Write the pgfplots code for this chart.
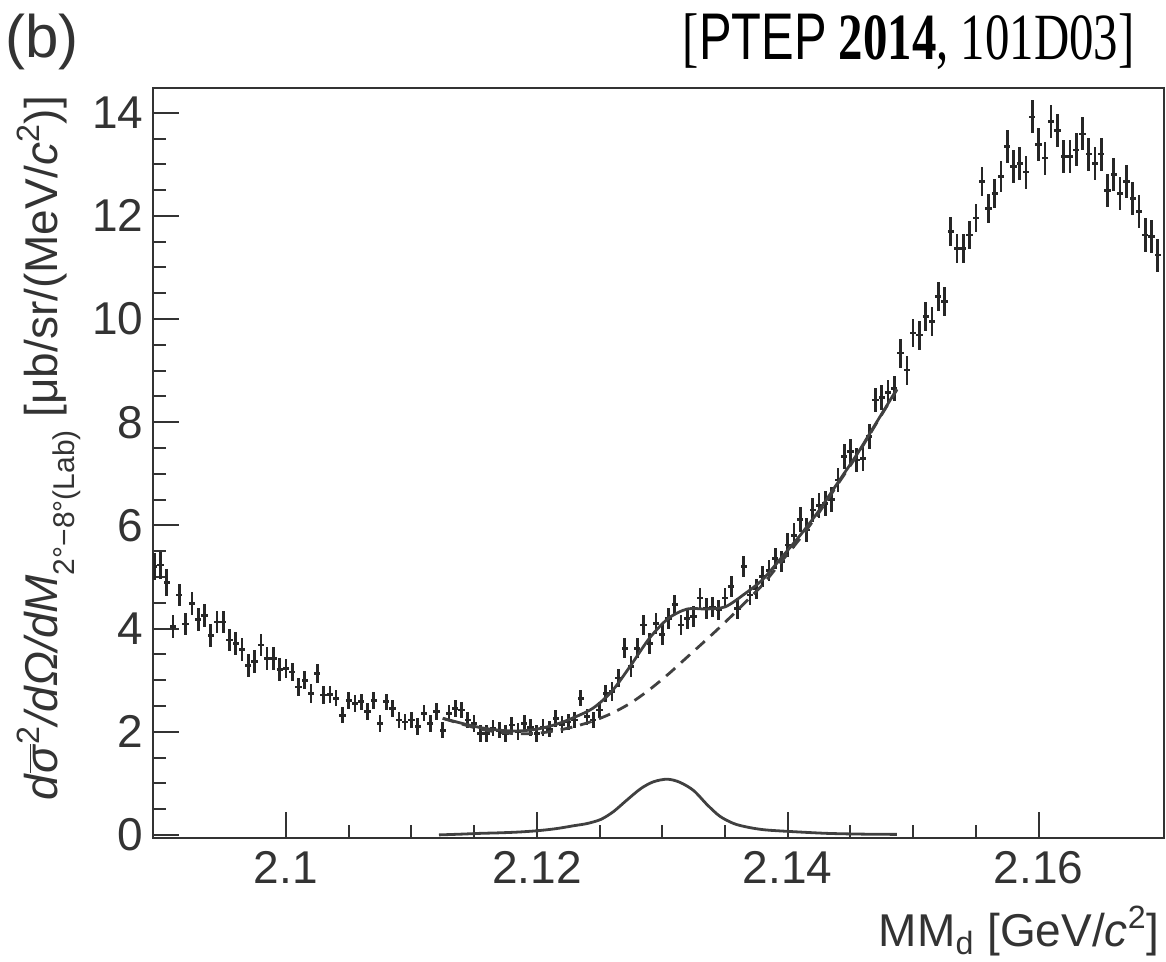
\documentclass[border=0pt]{standalone}
\usepackage{pgfplots}
\pgfplotsset{compat=1.18}
\usepackage{fontspec}
\setmainfont{Liberation Sans}
\newfontfamily\serifpt{Liberation Serif}
\definecolor{ink}{gray}{0.2}
\definecolor{curve}{gray}{0.25}
\definecolor{pts}{gray}{0.15}

\pgfplotstableread{
x y ex ey
2.0895 5.20 0.00025 0.26
2.0900 5.23 0.00025 0.26
2.0905 4.89 0.00025 0.26
2.0910 4.04 0.00025 0.22
2.0915 4.65 0.00025 0.22
2.0920 4.09 0.00025 0.22
2.0925 4.49 0.00025 0.22
2.0930 4.17 0.00025 0.22
2.0935 4.26 0.00025 0.22
2.0940 3.86 0.00025 0.22
2.0945 4.13 0.00025 0.22
2.0950 4.13 0.00025 0.22
2.0955 3.78 0.00025 0.22
2.0960 3.71 0.00025 0.22
2.0965 3.60 0.00025 0.22
2.0970 3.29 0.00025 0.22
2.0975 3.36 0.00025 0.22
2.0980 3.68 0.00025 0.22
2.0985 3.42 0.00025 0.22
2.0990 3.42 0.00025 0.22
2.0995 3.20 0.00025 0.22
2.1000 3.23 0.00025 0.18
2.1005 3.16 0.00025 0.18
2.1010 2.87 0.00025 0.18
2.1015 3.00 0.00025 0.18
2.1020 2.74 0.00025 0.18
2.1025 3.13 0.00025 0.18
2.1030 2.71 0.00025 0.18
2.1035 2.72 0.00025 0.16
2.1040 2.65 0.00025 0.16
2.1045 2.32 0.00025 0.16
2.1050 2.61 0.00025 0.16
2.1055 2.55 0.00025 0.16
2.1060 2.58 0.00025 0.16
2.1065 2.39 0.00025 0.16
2.1070 2.61 0.00025 0.16
2.1075 2.16 0.00025 0.16
2.1080 2.58 0.00025 0.16
2.1085 2.45 0.00025 0.16
2.1090 2.23 0.00025 0.16
2.1095 2.19 0.00025 0.16
2.1100 2.23 0.00025 0.16
2.1105 2.10 0.00025 0.16
2.1110 2.36 0.00025 0.16
2.1115 2.16 0.00025 0.16
2.1120 2.39 0.00025 0.16
2.1125 2.03 0.00025 0.16
2.1130 2.36 0.00025 0.16
2.1135 2.45 0.00025 0.16
2.1140 2.42 0.00025 0.16
2.1145 2.23 0.00025 0.16
2.1150 2.16 0.00025 0.16
2.1155 1.97 0.00025 0.16
2.1160 1.97 0.00025 0.16
2.1165 2.07 0.00025 0.16
2.1170 2.03 0.00025 0.16
2.1175 1.97 0.00025 0.16
2.1180 2.13 0.00025 0.16
2.1185 2.00 0.00025 0.16
2.1190 2.16 0.00025 0.16
2.1195 2.08 0.00025 0.16
2.1200 1.97 0.00025 0.16
2.1205 2.08 0.00025 0.16
2.1210 2.05 0.00025 0.16
2.1215 2.26 0.00025 0.16
2.1220 2.14 0.00025 0.16
2.1225 2.19 0.00025 0.16
2.1230 2.23 0.00025 0.16
2.1235 2.65 0.00025 0.16
2.1240 2.29 0.00025 0.16
2.1245 2.23 0.00025 0.16
2.1250 2.42 0.00025 0.16
2.1255 2.74 0.00025 0.16
2.1260 2.78 0.00025 0.18
2.1265 3.04 0.00025 0.18
2.1270 3.62 0.00025 0.20
2.1275 3.27 0.00025 0.20
2.1280 3.62 0.00025 0.20
2.1285 4.07 0.00025 0.20
2.1290 3.71 0.00025 0.20
2.1295 4.10 0.00025 0.20
2.1300 3.88 0.00025 0.20
2.1305 4.20 0.00025 0.20
2.1310 4.46 0.00025 0.20
2.1315 4.07 0.00025 0.20
2.1320 4.20 0.00025 0.20
2.1325 4.23 0.00025 0.20
2.1330 4.59 0.00025 0.20
2.1335 4.39 0.00025 0.20
2.1340 4.42 0.00025 0.20
2.1345 4.36 0.00025 0.20
2.1350 4.59 0.00025 0.20
2.1355 4.81 0.00025 0.20
2.1360 4.39 0.00025 0.20
2.1365 5.20 0.00025 0.20
2.1370 4.65 0.00025 0.20
2.1375 4.77 0.00025 0.20
2.1380 5.01 0.00025 0.20
2.1385 5.12 0.00025 0.20
2.1390 5.36 0.00025 0.20
2.1395 5.30 0.00025 0.20
2.1400 5.62 0.00025 0.24
2.1405 5.80 0.00025 0.24
2.1410 6.11 0.00025 0.24
2.1415 5.91 0.00025 0.24
2.1420 6.30 0.00025 0.24
2.1425 6.38 0.00025 0.24
2.1430 6.42 0.00025 0.24
2.1435 6.50 0.00025 0.24
2.1440 6.88 0.00025 0.24
2.1445 7.33 0.00025 0.24
2.1450 7.43 0.00025 0.24
2.1455 7.27 0.00025 0.24
2.1460 7.30 0.00025 0.24
2.1465 7.73 0.00025 0.24
2.1470 8.43 0.00025 0.24
2.1475 8.48 0.00025 0.24
2.1480 8.57 0.00025 0.24
2.1485 8.65 0.00025 0.24
2.1490 9.34 0.00025 0.28
2.1495 9.01 0.00025 0.28
2.1500 9.73 0.00025 0.28
2.1505 9.69 0.00025 0.28
2.1510 10.05 0.00025 0.28
2.1515 9.95 0.00025 0.28
2.1520 10.44 0.00025 0.28
2.1525 10.34 0.00025 0.28
2.1530 11.70 0.00025 0.28
2.1535 11.37 0.00025 0.28
2.1540 11.37 0.00025 0.28
2.1545 11.63 0.00025 0.28
2.1550 11.96 0.00025 0.28
2.1555 12.67 0.00025 0.28
2.1560 12.15 0.00025 0.28
2.1565 12.44 0.00025 0.28
2.1570 12.76 0.00025 0.30
2.1575 13.35 0.00025 0.32
2.1580 12.96 0.00025 0.32
2.1585 13.02 0.00025 0.32
2.1590 12.85 0.00025 0.32
2.1595 13.92 0.00025 0.32
2.1600 13.38 0.00025 0.32
2.1605 13.12 0.00025 0.32
2.1610 13.83 0.00025 0.32
2.1615 13.65 0.00025 0.32
2.1620 13.15 0.00025 0.32
2.1625 13.15 0.00025 0.32
2.1630 13.28 0.00025 0.32
2.1635 13.59 0.00025 0.32
2.1640 13.20 0.00025 0.32
2.1645 13.02 0.00025 0.32
2.1650 13.20 0.00025 0.32
2.1655 12.49 0.00025 0.32
2.1660 12.80 0.00025 0.32
2.1665 12.44 0.00025 0.32
2.1670 12.67 0.00025 0.32
2.1675 12.34 0.00025 0.32
2.1680 12.08 0.00025 0.32
2.1685 11.63 0.00025 0.32
2.1690 11.60 0.00025 0.32
2.1695 11.24 0.00025 0.32
}\datatable

\pgfplotstableread{
x y
2.1125 2.26
2.1140 2.165
2.1155 2.08
2.1170 2.03
2.1185 2.015
2.1200 2.05
2.1215 2.14
2.1230 2.28
2.1245 2.46
2.1260 2.79
2.1275 3.29
2.1290 3.82
2.1305 4.20
2.1320 4.38
2.1335 4.38
2.1350 4.42
2.1365 4.66
2.1380 4.95
2.1395 5.375
2.1410 5.81
2.1425 6.29
2.1440 6.83
2.1455 7.37
2.1470 7.965
2.1487 8.64
}\totaltable

\pgfplotstableread{
x y
2.1125 2.26
2.1140 2.15
2.1155 2.05
2.1170 1.99
2.1185 1.96
2.1200 1.97
2.1215 2.02
2.1230 2.10
2.1245 2.21
2.1260 2.36
2.1275 2.56
2.1290 2.82
2.1305 3.12
2.1320 3.45
2.1335 3.78
2.1350 4.12
2.1365 4.48
2.1380 4.85
2.1395 5.30
2.1410 5.75
2.1425 6.25
2.1440 6.80
2.1455 7.35
2.1470 7.95
2.1487 8.63
}\bgtable

\pgfplotstableread{
x y
2.1122 0.00
2.1140 0.015
2.1155 0.03
2.1170 0.04
2.1185 0.055
2.1200 0.08
2.1215 0.12
2.1230 0.18
2.1240 0.22
2.1251 0.30
2.1261 0.45
2.1272 0.68
2.1283 0.90
2.1293 1.03
2.1304 1.08
2.1314 1.02
2.1325 0.86
2.1336 0.58
2.1346 0.36
2.1357 0.22
2.1368 0.15
2.1381 0.10
2.1399 0.07
2.1431 0.03
2.1460 0.015
2.1487 0.01
}\peaktable

\begin{document}
\begin{tikzpicture}
\useasboundingbox (-76.5pt,-62pt) rectangle (506.5pt,419pt);
\begin{axis}[
  at={(0,0)}, anchor=south west,
  scale only axis, width=505.5pt, height=375pt,
  xmin=2.0894, xmax=2.1700, ymin=-0.06, ymax=14.48,
  xtick={2.1,2.12,2.14,2.16}, xticklabels={2.1,2.12,2.14,2.16},
  minor x tick num=3,
  ytick={0,2,4,6,8,10,12,14}, minor y tick num=3,
  tick pos=left, tick align=inside,
  major tick length=13pt, minor tick length=6.5pt,
  axis line style={line width=1pt, draw=ink},
  tick style={line width=1pt, draw=ink},
  ticklabel style={font=\fontsize{23}{27}\selectfont, text=ink},
  /pgf/number format/assume math mode=true,
  xticklabel style={yshift=-3pt},
  yticklabel style={xshift=-1.3pt},
]
\addplot[draw=none, mark=none,
  error bars/.cd, x dir=both, x explicit, y dir=both, y explicit,
  error mark=none, error bar style={line width=1.35pt, draw=pts, solid}]
  table[x=x, y=y, x error=ex, y error=ey] {\datatable};
\addplot[curve, line width=1.4pt, dash pattern=on 6pt off 4pt, smooth] table[x=x,y=y] {\bgtable};
\addplot[curve, line width=1.4pt, smooth] table[x=x,y=y] {\totaltable};
\addplot[curve, line width=1.4pt, smooth] table[x=x,y=y] {\peaktable};
\end{axis}
\node[rotate=90, anchor=base, text=ink, font=\fontsize{23}{27}\selectfont] at (-47.5pt,195pt)
  {\textit{d}$\overline{\mbox{\textit{σ}}}$\textsuperscript{2}\textit{/dΩ/dM}\raisebox{-0.35em}{\fontsize{15}{15}\selectfont 2°−8°(Lab)} [μb/sr/(MeV/\textit{c}\textsuperscript{2})]};
\node[anchor=base east, text=ink, font=\fontsize{23}{27}\selectfont, inner sep=0pt] at (503.5pt,-54.5pt)
  {MM\textsubscript{d} [GeV/\textit{c}\textsuperscript{2}]};
\node[anchor=base west, text=ink, font=\fontsize{30}{34}\selectfont, inner sep=0pt] at (-74pt,390pt) {(b)};
\node[anchor=base east, inner sep=0pt] at (491pt,389pt)
  {\scalebox{0.74}[1]{\fontsize{33}{36}\selectfont{\serifpt[}PTEP\serifpt{} \textbf{2014}, 101D03]}};
\end{tikzpicture}
\end{document}
